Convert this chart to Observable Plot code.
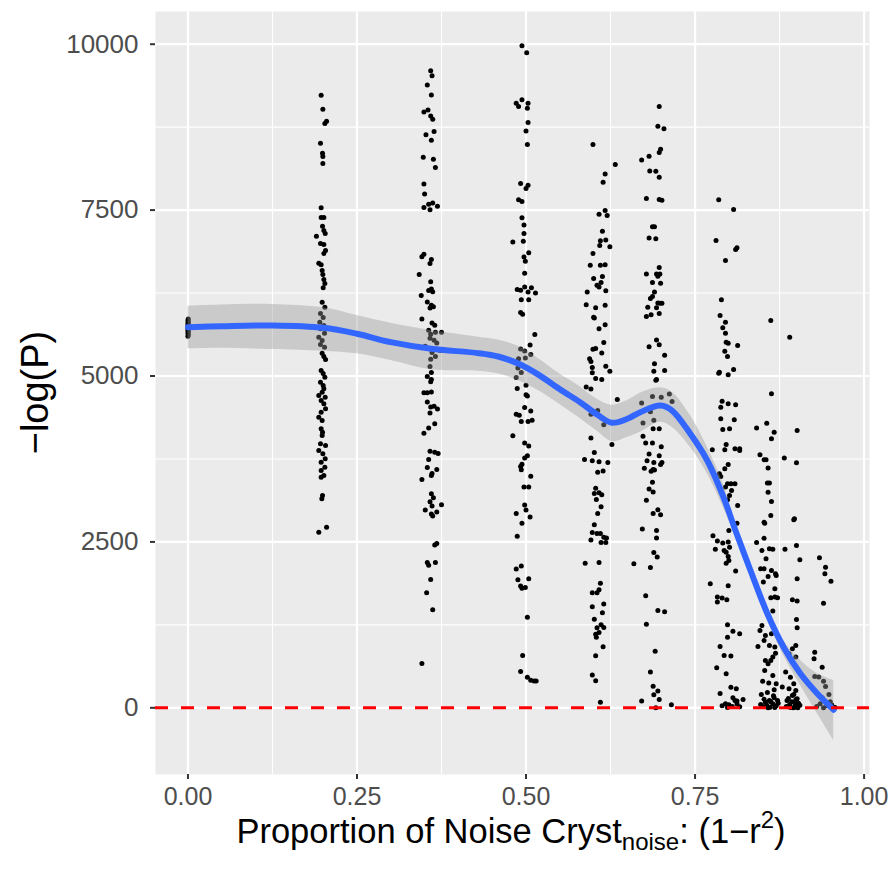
<!DOCTYPE html>
<html>
<head>
<meta charset="utf-8">
<script src="https://cdn.jsdelivr.net/npm/d3@7"></script>
<script src="https://cdn.jsdelivr.net/npm/@observablehq/plot@0.6"></script>
<style>
  html, body { margin: 0; padding: 0; background: #ffffff; }
  #chart svg { display: block; }
</style>
</head>
<body>
<div id="chart"></div>
<script>
// ---- Data ----
const xTicks = [0, 0.25, 0.5, 0.75, 1];
const xMinor = [0.125, 0.375, 0.625, 0.875];
const yTicks = [0, 2500, 5000, 7500, 10000];
const yMinor = [1250, 3750, 6250, 8750];

// points: [proportion of noise (jittered), -log(P)]
const g00 = [[0,5600],[0.0005,5625],[0,5650],[0.0005,5670],[0,5690],[0.0005,5710],[0,5725],[0.0005,5740],[0,5755],[0.0005,5770],[0,5790],[0.0005,5810],[0,5835],[0.0005,5860]];
const g20 = [[.197,9232],[.1995,9021],[.205,8840],[.2025,8805],[.196,8508],[.199,8358],[.1995,8308],[.1995,8202],[.197,7535],[.197,7389],[.201,7389],[.199,7258],[.201,7193],[.190,7107],[.203,7148],[.196,6997],[.201,6982],[.2035,6891],[.201,6846],[.1935,6700],[.197,6676],[.1985,6590],[.1995,6530],[.201,6455],[.2025,6394],[.200,6330],[.1985,6113],[.2025,6037],[.196,5942],[.200,5881],[.195,5811],[.201,5761],[.196,5711],[.202,5645],[.1935,5585],[.1985,5535],[.196,5475],[.202,5434],[.1985,5344],[.201,5294],[.2035,5248],[.197,5083],[.200,5037],[.2025,4982],[.196,4907],[.200,4857],[.201,4807],[.1985,4756],[.1935,4706],[.203,4680],[.197,4631],[.201,4581],[.2035,4506],[.197,4455],[.1935,4380],[.1985,4330],[.197,4205],[.199,4154],[.1985,4104],[.196,3979],[.2035,3953],[.1935,3878],[.1995,3828],[.203,3752],[.197,3701],[.2025,3626],[.197,3576],[.201,3501],[.197,3475],[.199,3199],[.198,3150],[.1935,2646],[.205,2721]];
const g36 = [[.359,9599],[.361,9526],[.354,9386],[.360,9233],[.349,8978],[.355,9008],[.359,8917],[.362,8868],[.352,8637],[.364,8686],[.360,8552],[.348,8296],[.363,8266],[.366,8144],[.349,7894],[.350,7742],[.349,7541],[.356,7590],[.358,7505],[.362,7608],[.369,7560],[.349,6835],[.346,6799],[.360,6756],[.358,6695],[.342,6531],[.359,6421],[.360,6312],[.356,6287],[.362,6269],[.345,6214],[.354,6117],[.360,6068],[.363,6044],[.358,6026],[.346,5861],[.361,5800],[.365,5764],[.356,5691],[.359,5630],[.366,5660],[.375,5660],[.358,5569],[.364,5539],[.368,5496],[.351,5447],[.373,5386],[.361,5356],[.366,5295],[.359,5253],[.358,5143],[.360,5052],[.354,4991],[.360,4948],[.359,4912],[.349,4747],[.354,4747],[.360,4759],[.354,4608],[.359,4534],[.364,4546],[.369,4504],[.358,4443],[.349,4139],[.356,4218],[.365,4279],[.358,3865],[.365,3853],[.370,3834],[.356,3743],[.354,3621],[.368,3591],[.361,3530],[.360,3500],[.346,3439],[.360,3226],[.363,3165],[.358,3104],[.361,3043],[.375,3061],[.351,2982],[.368,2952],[.360,2921],[.362,2891],[.368,2477],[.365,2453],[.354,2191],[.356,2148],[.366,2191],[.359,1935],[.353,1734],[.362,1479],[.346,669]];
const g50 = [[.494,9975],[.501,9872],[.4855,9112],[.489,9061],[.494,9164],[.503,9112],[.502,9035],[.503,8822],[.500,8693],[.502,8487],[.492,7901],[.503,7875],[.500,7824],[.489,7656],[.494,7631],[.494,7386],[.497,7276],[.497,7148],[.496,7032],[.4805,7019],[.504,6858],[.497,6793],[.499,6729],[.498,6549],[.487,6304],[.492,6291],[.498,6342],[.503,6265],[.508,6329],[.514,6252],[.493,6149],[.504,6149],[.492,5956],[.495,5930],[.513,5627],[.506,5466],[.492,5408],[.498,5376],[.507,5325],[.489,5260],[.499,5273],[.488,5119],[.4855,4977],[.493,5054],[.500,4861],[.487,4810],[.500,4719],[.502,4700],[.498,4526],[.507,4474],[.4855,4423],[.490,4410],[.493,4313],[.503,4313],[.509,4333],[.4805,4101],[.498,3991],[.504,3946],[.502,3798],[.498,3766],[.494,3669],[.492,3637],[.493,3586],[.507,3489],[.497,3328],[.504,3328],[.498,3057],[.500,2980],[.4855,2928],[.506,2877],[.494,2780],[.487,2587],[.4855,2091],[.493,2136],[.504,1943],[.488,1930],[.492,1834],[.494,1801],[.499,1814],[.502,1364],[.495,790],[.492,546],[.502,462],[.507,417],[.512,404],[.515,404]];
const g61 = [[.599,8490],[.617,8046],[.614,7921],[.632,8188],[.617,7494],[.620,7420],[.608,7437],[.613,7182],[.610,7039],[.618,7051],[.624,6948],[.609,6965],[.599,6846],[.595,6670],[.610,6670],[.617,6675],[.600,6471],[.613,6499],[.605,6368],[.611,6408],[.608,6340],[.618,6283],[.5905,6266],[.589,6073],[.603,6027],[.617,6067],[.600,5885],[.601,5874],[.617,5771],[.608,5714],[.615,5504],[.603,5413],[.599,5402],[.612,5345],[.594,5259],[.596,5220],[.598,5129],[.598,5049],[.618,5146],[.624,5072],[.603,4964],[.612,4947],[.589,4833],[.596,4804],[.635,4645],[.606,4480],[.596,4423],[.612,4367],[.615,4264],[.596,4065],[.627,3969],[.601,3849],[.5865,3741],[.598,3724],[.608,3707],[.621,3695],[.606,3548],[.614,3570],[.603,3309],[.601,3229],[.608,3240],[.612,3212],[.604,3138],[.611,3030],[.606,2928],[.601,2757],[.598,2643],[.605,2626],[.596,2530],[.610,2626],[.615,2569],[.619,2558],[.611,2490],[.618,2490],[.5875,2177],[.608,2189],[.610,1876],[.608,1779],[.598,1734],[.605,1734],[.615,1563],[.598,1523],[.613,1432],[.601,1335],[.611,1250],[.605,1205],[.615,1210],[.603,1108],[.608,1136],[.604,1062],[.614,920],[.603,784],[.598,494],[.603,409],[.610,84]];
const g70 = [[.697,9062],[.695,8765],[.704,8725],[.671,8256],[.682,8313],[.697,8370],[.699,8416],[.683,8091],[.692,8086],[.697,7995],[.678,7676],[.697,7659],[.701,7648],[.687,7250],[.690,7250],[.682,7079],[.692,7068],[.697,6636],[.693,6539],[.698,6539],[.695,6505],[.678,6539],[.687,6408],[.699,6397],[.690,6266],[.687,6198],[.684,6169],[.695,6101],[.698,6095],[.701,6095],[.680,6038],[.693,6027],[.685,5925],[.678,5896],[.697,5942],[.693,5544],[.697,5470],[.682,5441],[.705,5311],[.690,5185],[.705,5083],[.689,5072],[.693,4947],[.692,4935],[.671,4594],[.687,4691],[.700,4679],[.712,4730],[.716,4617],[.689,4332],[.673,4292],[.684,4463],[.688,4207],[.697,4207],[.673,4093],[.677,3991],[.687,3991],[.700,3934],[.682,3826],[.697,3798],[.679,3724],[.689,3695],[.699,3667],[.701,3695],[.675,3610],[.688,3593],[.685,3565],[.690,3582],[.687,3400],[.682,3297],[.688,3252],[.678,3127],[.688,2928],[.695,2985],[.699,2911],[.672,2695],[.693,2672],[.693,2558],[.689,2342],[.694,2274],[.684,2114],[.6595,2171],[.677,1688],[.695,1466],[.705,1449],[.678,1261],[.691,852],[.684,539],[.688,323],[.695,255],[.689,198],[.697,124],[.671,101],[.692,0],[.715,45]];
const g80 = [[.785,7655],[.807,7510],[.781,7043],[.812,6932],[.810,6907],[.795,6741],[.789,6148],[.787,5912],[.791,5727],[.795,5812],[.795,5646],[.796,5510],[.799,5495],[.794,5375],[.798,5295],[.813,5460],[.786,5058],[.785,5043],[.799,5018],[.807,5099],[.790,4621],[.799,4581],[.788,4531],[.810,4566],[.788,4355],[.808,4340],[.791,4194],[.801,4205],[.796,3969],[.794,3888],[.809,3903],[.816,3903],[.816,3878],[.7755,3888],[.799,3667],[.794,3602],[.786,3526],[.788,3486],[.798,3376],[.803,3376],[.809,3376],[.795,3326],[.804,3275],[.801,3200],[.798,3135],[.813,3049],[.812,2783],[.800,2672],[.7765,2592],[.783,2512],[.791,2482],[.799,2497],[.801,2421],[.793,2371],[.780,2391],[.796,2346],[.799,2281],[.800,2220],[.796,2180],[.810,2060],[.7725,1869],[.799,1839],[.783,1668],[.790,1653],[.783,1593],[.797,1628],[.798,1251],[.806,1155],[.798,1065],[.816,1115],[.787,924],[.793,789],[.803,779],[.782,603],[.796,512],[.803,311],[.811,286],[.787,216],[.806,151],[.809,111],[.812,101],[.821,126],[.795,60],[.812,60],[.790,30],[.800,45],[.805,20],[.798,5],[.816,15]];
const g87 = [[.862,5837],[.863,4732],[.856,4290],[.841,4215],[.867,4154],[.863,4054],[.846,3813],[.852,3737],[.855,3737],[.858,3612],[.857,3386],[.860,3386],[.858,3250],[.863,3110],[.862,2898],[.852,2798],[.853,2783],[.841,2492],[.852,2557],[.849,2371],[.860,2396],[.855,2246],[.865,2391],[.847,2095],[.852,2095],[.863,2070],[.869,2020],[.870,1995],[.858,1980],[.851,1894],[.868,1794],[.862,1658],[.868,1668],[.872,1658],[.865,1457],[.849,1241],[.846,1166],[.854,1090],[.863,1116],[.852,1015],[.843,925],[.860,940],[.868,915],[.869,824],[.854,714],[.862,714],[.865,764],[.858,663],[.853,563],[.865,488],[.850,402],[.859,372],[.870,362],[.867,272],[.879,312],[.848,201],[.854,85],[.860,110],[.867,151],[.872,110],[.850,20],[.856,40],[.861,10],[.865,60],[.870,30],[.858,0],[.862,90],[.868,5],[.852,130],[.866,180],[.873,70],[.857,230],[.847,50]];
const g90 = [[.890,5586],[.901,4179],[.882,3763],[.900,3692],[.897,2848],[.896,2833],[.883,2391],[.900,2446],[.905,2230],[.901,1945],[.894,1628],[.901,1608],[.900,1332],[.901,1206],[.899,940],[.894,889],[.889,814],[.899,764],[.884,538],[.891,462],[.896,362],[.889,286],[.899,261],[.894,186],[.901,136],[.886,111],[.898,60],[.885,20],[.890,50],[.895,0],[.900,30],[.893,90],[.898,10],[.903,70],[.888,140],[.896,200],[.891,5],[.899,120],[.902,0],[.905,40]];
const g95 = [[.934,2261],[.943,2120],[.942,2020],[.951,1909],[.940,1577],[.927,839],[.926,739],[.938,613],[.927,473],[.933,463],[.940,402],[.943,322],[.930,20],[.935,60],[.940,0],[.945,30],[.950,90],[.955,10],[.938,150],[.948,200],[.952,45],[.957,5]];

// loess smooth with 95% band: x, fit, lower, upper
const smoothX  = [0, 0.05, 0.125, 0.2, 0.25, 0.3, 0.36, 0.43, 0.46, 0.49, 0.52, 0.55, 0.58, 0.605, 0.627, 0.65, 0.669, 0.699, 0.716, 0.743, 0.768, 0.793, 0.808, 0.832, 0.857, 0.881, 0.906, 0.931, 0.955];
const smoothY  = [5736, 5750, 5761, 5726, 5636, 5510, 5410, 5344, 5290, 5180, 5010, 4800, 4606, 4420, 4295, 4355, 4455, 4556, 4480, 4129, 3727, 3150, 2722, 2069, 1417, 913, 512, 211, -30];
const smoothLo = [5410, 5420, 5400, 5374, 5335, 5234, 5094, 5073, 5030, 4925, 4770, 4570, 4360, 4170, 4010, 4078, 4154, 4304, 4229, 3928, 3530, 2990, 2620, 1990, 1326, 788, 336, -90, -493];
const smoothHi = [6052, 6070, 6078, 6028, 5912, 5796, 5686, 5585, 5540, 5440, 5250, 5030, 4840, 4650, 4560, 4631, 4741, 4822, 4756, 4405, 3930, 3340, 2820, 2150, 1516, 1014, 713, 512, 411];

// ---- Build tables ----
const points = [g00, g20, g36, g50, g61, g70, g80, g87, g90, g95].flat().map(([x, y]) => ({x, y}));
const smooth = smoothX.map((x, i) => ({x, y: smoothY[i], lo: smoothLo[i], hi: smoothHi[i]}));

const chart = Plot.plot({
  width: 892,
  height: 871,
  marginTop: 11,
  marginBottom: 97,
  marginLeft: 155,
  marginRight: 23,
  style: {fontFamily: "'Liberation Sans', Arial, Helvetica, sans-serif", background: "#ffffff"},
  x: {domain: [-0.048, 1.008], label: null},
  y: {domain: [-1005, 10493], label: null},
  marks: [
    Plot.frame({fill: "#EBEBEB", stroke: "none"}),
    Plot.ruleX(xMinor, {stroke: "#ffffff", strokeWidth: 1.1}),
    Plot.ruleY(yMinor, {stroke: "#ffffff", strokeWidth: 1.1}),
    Plot.gridX({ticks: xTicks, stroke: "#ffffff", strokeOpacity: 1, strokeWidth: 2.2}),
    Plot.gridY({ticks: yTicks, stroke: "#ffffff", strokeOpacity: 1, strokeWidth: 2.2}),
    Plot.dot(points, {x: "x", y: "y", r: 2.5, fill: "#000000", stroke: "none"}),
    Plot.areaY(smooth, {x: "x", y1: "lo", y2: "hi", fill: "#999999", fillOpacity: 0.4, curve: "catmull-rom"}),
    Plot.line(smooth, {x: "x", y: "y", stroke: "#3366FF", strokeWidth: 6, curve: "catmull-rom"}),
    Plot.ruleY([0], {stroke: "#FF0000", strokeWidth: 3, strokeDasharray: "13,13"}),
    Plot.axisX({ticks: xTicks, tickFormat: d3.format(".2f"), tickSize: 5, tickPadding: 8, fontSize: 25,
                stroke: "#333333", strokeWidth: 2, fill: "#4D4D4D", label: null}),
    Plot.axisY({ticks: yTicks, tickFormat: d => String(d), tickSize: 5, tickPadding: 12, fontSize: 26,
                stroke: "#333333", strokeWidth: 2, fill: "#4D4D4D", label: null})
  ]
});

const svg = d3.select(chart);
// y-axis title
svg.append("text")
  .attr("transform", "translate(48,392.5) rotate(-90)")
  .attr("text-anchor", "middle")
  .attr("font-size", 38)
  .attr("fill", "#000000")
  .text("\u2212log(P)");
// x-axis title with subscript and superscript
const xt = svg.append("text")
  .attr("x", 511)
  .attr("y", 843)
  .attr("text-anchor", "middle")
  .attr("font-size", 34.5)
  .attr("fill", "#000000");
xt.append("tspan").text("Proportion of Noise Cryst");
xt.append("tspan").attr("font-size", 24).attr("dy", 7).text("noise");
xt.append("tspan").attr("dy", -7).text(": (1\u2212r");
xt.append("tspan").attr("font-size", 24).attr("dy", -15).text("2");
xt.append("tspan").attr("dy", 15).text(")");

document.getElementById("chart").appendChild(chart);
</script>
</body>
</html>
